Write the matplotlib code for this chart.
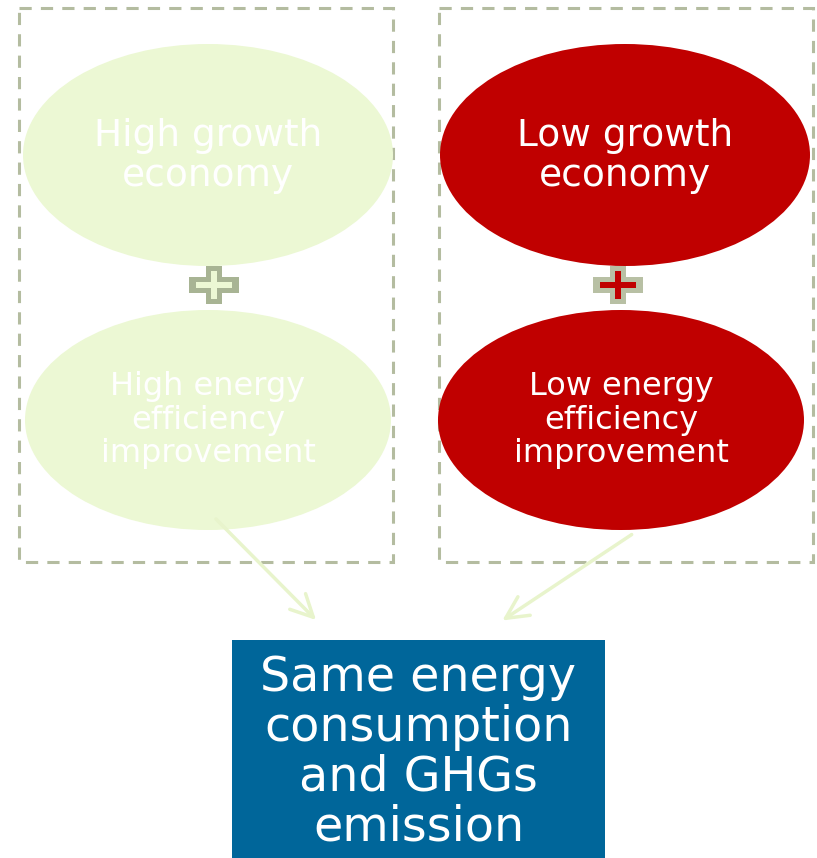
import matplotlib
matplotlib.use("Agg")
import matplotlib.pyplot as plt
from matplotlib.patches import Ellipse, Rectangle, FancyArrowPatch

# scenario texts
growth_labels = ["High growth\neconomy", "Low growth\neconomy"]
efficiency_labels = ["High energy\nefficiency\nimprovement", "Low energy\nefficiency\nimprovement"]
result_label = "Same energy\nconsumption\nand GHGs\nemission"

# colours
fill_colors = ["#ecf8d4", "#c00000"]
plus_outer = ["#a8b494", "#b8c0a4"]
dash_color = "#b4bca0"
arrow_color = "#e8f4cc"
result_color = "#00669a"

# layout (pixel space of the 817x858 figure)
box_x = [19, 439]
box_w = 374
box_y, box_h = 8, 554
top_cx = [208, 625]
top_cy, top_w, top_h = 155, 370, 222
bot_cx = [208, 621]
bot_cy, bot_w, bot_h = 420, 366, 220
plus_cx = [214, 618]
plus_cy = 285
arrow_start = [(214, 517), (634, 533)]
arrow_end = [(318, 622), (500, 622)]

fig = plt.figure(figsize=(8.17, 8.58), dpi=100)
ax = fig.add_axes([0, 0, 1, 1])
ax.set_xlim(0, 817)
ax.set_ylim(858, 0)
ax.axis("off")

for i in range(2):
    # dashed grouping box
    ax.add_patch(Rectangle((box_x[i], box_y), box_w, box_h, fill=False,
                           edgecolor=dash_color, lw=2.2, ls=(0, (4, 3))))
    # ellipses
    ax.add_patch(Ellipse((top_cx[i], top_cy), top_w, top_h, color=fill_colors[i], lw=0))
    ax.add_patch(Ellipse((bot_cx[i], bot_cy), bot_w, bot_h, color=fill_colors[i], lw=0))
    ax.text(top_cx[i], top_cy + 1, growth_labels[i], ha="center", va="center",
            color="white", fontsize=27, linespacing=1.17)
    ax.text(bot_cx[i], bot_cy, efficiency_labels[i], ha="center", va="center",
            color="white", fontsize=23, linespacing=1.11)
    # plus sign: outer thick cross + inner thin cross
    cx = plus_cx[i]
    ax.add_patch(Rectangle((cx - 25, plus_cy - 8), 50, 16, color=plus_outer[i], lw=0))
    ax.add_patch(Rectangle((cx - 8, plus_cy - 19), 16, 38, color=plus_outer[i], lw=0))
    ax.add_patch(Rectangle((cx - 18, plus_cy - 3), 36, 6, color=fill_colors[i], lw=0))
    ax.add_patch(Rectangle((cx - 3, plus_cy - 14), 6, 28, color=fill_colors[i], lw=0))
    # arrows
    ax.add_patch(FancyArrowPatch(arrow_start[i], arrow_end[i],
                                 arrowstyle="->,head_length=16,head_width=8",
                                 color=arrow_color, lw=2.5, mutation_scale=1))

# result box
ax.add_patch(Rectangle((232, 640), 373, 230, color=result_color, lw=0))
ax.text(418.5, 752, result_label, ha="center", va="center", color="white",
        fontsize=34.3, linespacing=1.075)

fig.savefig("out.png", dpi=100)
